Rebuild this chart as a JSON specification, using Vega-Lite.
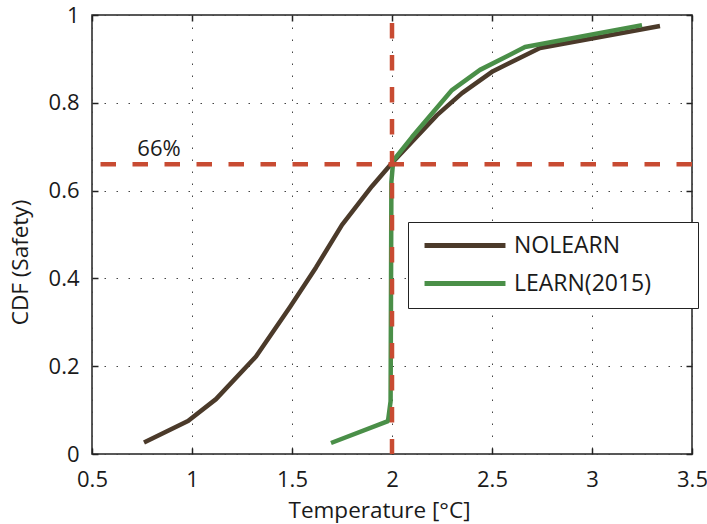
{
  "$schema": "https://vega.github.io/schema/vega-lite/v6.json",
  "width": 600,
  "height": 439,
  "autosize": "none",
  "padding": {"left": 92, "top": 15, "right": 15, "bottom": 70},
  "config": {
    "font": "Open Sans",
    "view": {"stroke": "#222", "strokeWidth": 1.5},
    "axis": {
      "labelFont": "Open Sans",
      "titleFont": "Open Sans",
      "labelFontSize": 22,
      "titleFontSize": 22.5,
      "titleFontWeight": "normal",
      "labelColor": "#1a1a1a",
      "titleColor": "#1a1a1a",
      "domain": false,
      "tickColor": "#222",
      "tickSize": -6,
      "tickWidth": 1.5,
      "gridColor": "#444",
      "gridDash": [1.5, 10.5],
      "gridWidth": 1,
      "gridOpacity": 1
    }
  },
  "resolve": {"axis": {"x": "independent", "y": "independent"}},
  "datasets": {
    "cdf": [
      {"series": "NOLEARN", "o": 1, "t": 0.76, "p": 0.026},
      {"series": "NOLEARN", "o": 2, "t": 0.98, "p": 0.075},
      {"series": "NOLEARN", "o": 3, "t": 1.12, "p": 0.125},
      {"series": "NOLEARN", "o": 4, "t": 1.32, "p": 0.222},
      {"series": "NOLEARN", "o": 5, "t": 1.49, "p": 0.335},
      {"series": "NOLEARN", "o": 6, "t": 1.62, "p": 0.425},
      {"series": "NOLEARN", "o": 7, "t": 1.75, "p": 0.522},
      {"series": "NOLEARN", "o": 8, "t": 1.9, "p": 0.61},
      {"series": "NOLEARN", "o": 9, "t": 2.0, "p": 0.663},
      {"series": "NOLEARN", "o": 10, "t": 2.225, "p": 0.772},
      {"series": "NOLEARN", "o": 11, "t": 2.35, "p": 0.822},
      {"series": "NOLEARN", "o": 12, "t": 2.505, "p": 0.872},
      {"series": "NOLEARN", "o": 13, "t": 2.74, "p": 0.925},
      {"series": "NOLEARN", "o": 14, "t": 3.34, "p": 0.975},
      {"series": "LEARN(2015)", "o": 1, "t": 1.695, "p": 0.025},
      {"series": "LEARN(2015)", "o": 2, "t": 1.98, "p": 0.075},
      {"series": "LEARN(2015)", "o": 3, "t": 1.993, "p": 0.12},
      {"series": "LEARN(2015)", "o": 4, "t": 1.997, "p": 0.62},
      {"series": "LEARN(2015)", "o": 5, "t": 2.006, "p": 0.668},
      {"series": "LEARN(2015)", "o": 6, "t": 2.1, "p": 0.722},
      {"series": "LEARN(2015)", "o": 7, "t": 2.3, "p": 0.829},
      {"series": "LEARN(2015)", "o": 8, "t": 2.44, "p": 0.875},
      {"series": "LEARN(2015)", "o": 9, "t": 2.665, "p": 0.927},
      {"series": "LEARN(2015)", "o": 10, "t": 3.25, "p": 0.977}
    ],
    "note": [{"label": "66%", "t": 0.835, "p": 0.678}],
    "hline": [{"p": 0.66}],
    "vline": [{"t": 2.0}]
  },
  "layer": [
    {
      "data": {"name": "cdf"},
      "mark": {"type": "line", "strokeWidth": 4.5, "strokeJoin": "round"},
      "encoding": {
        "x": {
          "field": "t", "type": "quantitative",
          "scale": {"domain": [0.5, 3.5], "nice": false},
          "axis": {"title": "Temperature [°C]", "values": [0.5, 1, 1.5, 2, 2.5, 3, 3.5], "format": "~g", "labelPadding": 21, "labelFlush": false, "titleX": 287, "titleY": 63, "titleBaseline": "alphabetic"}
        },
        "y": {
          "field": "p", "type": "quantitative",
          "scale": {"domain": [0, 1], "nice": false},
          "axis": {"title": "CDF (Safety)", "values": [0, 0.2, 0.4, 0.6, 0.8, 1], "format": "~g", "labelPadding": 19, "labelFlush": false, "titleX": -65, "titleY": 247, "titleBaseline": "alphabetic"}
        },
        "color": {
          "field": "series", "type": "nominal",
          "scale": {"domain": ["NOLEARN", "LEARN(2015)"], "range": ["#4b3a2a", "#4a8f48"]},
          "legend": {
            "title": null,
            "orient": "none",
            "legendX": 316,
            "legendY": 207,
            "direction": "vertical",
            "strokeColor": "#222",
            "fillColor": "#ffffff",
            "padding": 12,
            "symbolType": "M-6,0H6",
            "symbolSize": 182,
            "symbolStrokeWidth": 5,
            "symbolOffset": 33.5,
            "labelFont": "Open Sans",
            "labelFontSize": 23,
            "labelColor": "#1a1a1a",
            "labelOffset": 37.5,
            "labelLimit": 0,
            "labelExpr": "datum.label + '\u2800\u2800'",
            "rowPadding": 14
          }
        },
        "order": {"field": "o", "type": "quantitative"}
      }
    },
    {
      "data": {"name": "note"},
      "mark": {"type": "text", "fontSize": 22, "font": "Open Sans", "color": "#1a1a1a", "baseline": "alphabetic"},
      "encoding": {
        "x": {"field": "t", "type": "quantitative", "axis": null},
        "y": {"field": "p", "type": "quantitative", "axis": null},
        "text": {"field": "label"}
      }
    },
    {
      "data": {"name": "hline"},
      "mark": {"type": "rule", "color": "#c84b32", "strokeWidth": 4.5, "strokeDash": [15.5, 16.5]},
      "encoding": {"y": {"field": "p", "type": "quantitative", "axis": {"orient": "right", "values": [0, 0.2, 0.4, 0.6, 0.8, 1], "labels": false, "grid": false, "title": null}}}
    },
    {
      "data": {"name": "vline"},
      "mark": {"type": "rule", "color": "#c84b32", "strokeWidth": 4.5, "strokeDash": [15.5, 16.5], "strokeDashOffset": -8},
      "encoding": {"x": {"field": "t", "type": "quantitative", "axis": {"orient": "top", "values": [0.5, 1, 1.5, 2, 2.5, 3, 3.5], "labels": false, "grid": false, "title": null}}}
    }
  ]
}
